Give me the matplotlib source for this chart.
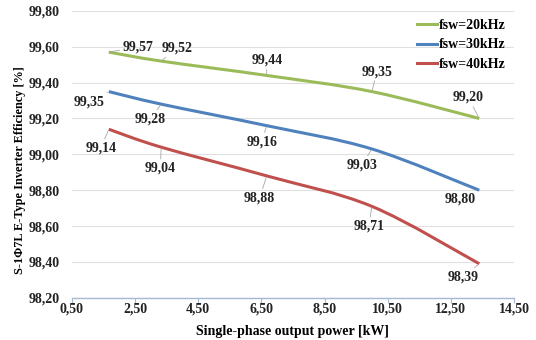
import matplotlib
matplotlib.use("Agg")
import matplotlib.pyplot as plt
import numpy as np
from matplotlib.path import Path
from matplotlib.patches import PathPatch

power_kw = [1.67, 3.33, 6.67, 10.0, 13.4]
eff_20k = [99.57, 99.52, 99.44, 99.35, 99.20]
eff_30k = [99.35, 99.28, 99.16, 99.03, 98.80]
eff_40k = [99.14, 99.04, 98.88, 98.71, 98.39]
series_names = ["fsw=20kHz", "fsw=30kHz", "fsw=40kHz"]
colors = ["#9bbb59", "#4f81bd", "#c0504d"]
x_ticks = [0.5, 2.5, 4.5, 6.5, 8.5, 10.5, 12.5, 14.5]
y_ticks = [98.2, 98.4, 98.6, 98.8, 99.0, 99.2, 99.4, 99.6, 99.8]

# label offsets in pixels (dx, dy)
offsets = [
    [(29, 5), (16, 13), (0, 15), (5, 20), (-11, 21)],
    [(-20, -10), (-11, -15), (-5, -16), (-10, -16), (-19, -9)],
    [(-8, -19), (-1, -21), (-7, -22), (-3, -20), (-16, -13)],
]

plt.rcParams['font.family'] = ['Liberation Serif', 'DejaVu Serif']
plt.rcParams['font.weight'] = 'bold'

fig = plt.figure(figsize=(5.36, 3.4), dpi=100)
ax = fig.add_axes([0.134, 0.124, 0.825, 0.844])


def smooth_path(xs, ys):
    # Excel-like smoothed line via cubic Bezier (Catmull-Rom style control points)
    pts = np.column_stack([xs, ys]).astype(float)
    n = len(pts)
    verts = [pts[0]]
    codes = [Path.MOVETO]
    for i in range(n - 1):
        p0 = pts[i - 1] if i > 0 else pts[i]
        p1 = pts[i]
        p2 = pts[i + 1]
        p3 = pts[i + 2] if i + 2 < n else pts[i + 1]
        c1 = p1 + (p2 - p0) / 6.0
        c2 = p2 - (p3 - p1) / 6.0
        verts += [c1, c2, p2]
        codes += [Path.CURVE4] * 3
    return Path(verts, codes)


all_series = [eff_20k, eff_30k, eff_40k]
handles = []
for ys, name, col, offs in zip(all_series, series_names, colors, offsets):
    patch = PathPatch(smooth_path(power_kw, ys), facecolor='none', edgecolor=col,
                      lw=2.2, zorder=3, capstyle='butt')
    ax.add_patch(patch)
    h, = ax.plot([], [], color=col, lw=2.2, label=name)
    handles.append(h)
    for x, y, (dx, dy) in zip(power_kw, ys, offs):
        ax.annotate(f"{y:.2f}".replace('.', ','), xy=(x, y), xytext=(dx, dy),
                    textcoords='offset pixels', ha='center', va='center',
                    fontsize=10, fontweight='bold', color='#222222',
                    arrowprops=dict(arrowstyle='-', color='#a6a6a6', lw=0.6,
                                    shrinkA=0, shrinkB=1), zorder=4)

ax.set_xlim(0.5, 14.5)
ax.set_ylim(98.2, 99.8)
ax.set_xticks(x_ticks)
ax.set_yticks(y_ticks)
ax.set_xticklabels([f"{v:.2f}".replace('.', ',') for v in x_ticks])
ax.set_yticklabels([f"{v:.2f}".replace('.', ',') for v in y_ticks])
ax.tick_params(axis='both', labelsize=10, colors='#222222')
ax.tick_params(axis='y', length=0, pad=9)
ax.tick_params(axis='x', length=3.5, color='#a6b9d0', pad=0)
for lab in ax.get_xticklabels() + ax.get_yticklabels():
    lab.set_fontweight('bold')
ax.grid(axis='y', color='#e0e0e0', lw=0.8)
ax.set_axisbelow(True)
for s in ['top', 'right', 'left']:
    ax.spines[s].set_visible(False)
ax.spines['bottom'].set_color('#a6b9d0')
ax.spines['bottom'].set_linewidth(1.0)

ax.set_xlabel("Single-phase output power [kW]", fontsize=10, fontweight='bold',
              labelpad=7)
ax.set_ylabel("S-1Φ7L E-Type Inverter Efficiency [%]", fontsize=8.8,
              fontweight='bold', va='center')
ax.yaxis.set_label_coords(-0.118, 0.446)

leg = ax.legend(handles=handles, loc='upper right', bbox_to_anchor=(1.0, 1.0),
                frameon=False, handlelength=1.4, handletextpad=0.15,
                labelspacing=0.45, borderaxespad=0.2,
                prop={'weight': 'bold', 'size': 10})

fig.savefig("out.png", dpi=100)
